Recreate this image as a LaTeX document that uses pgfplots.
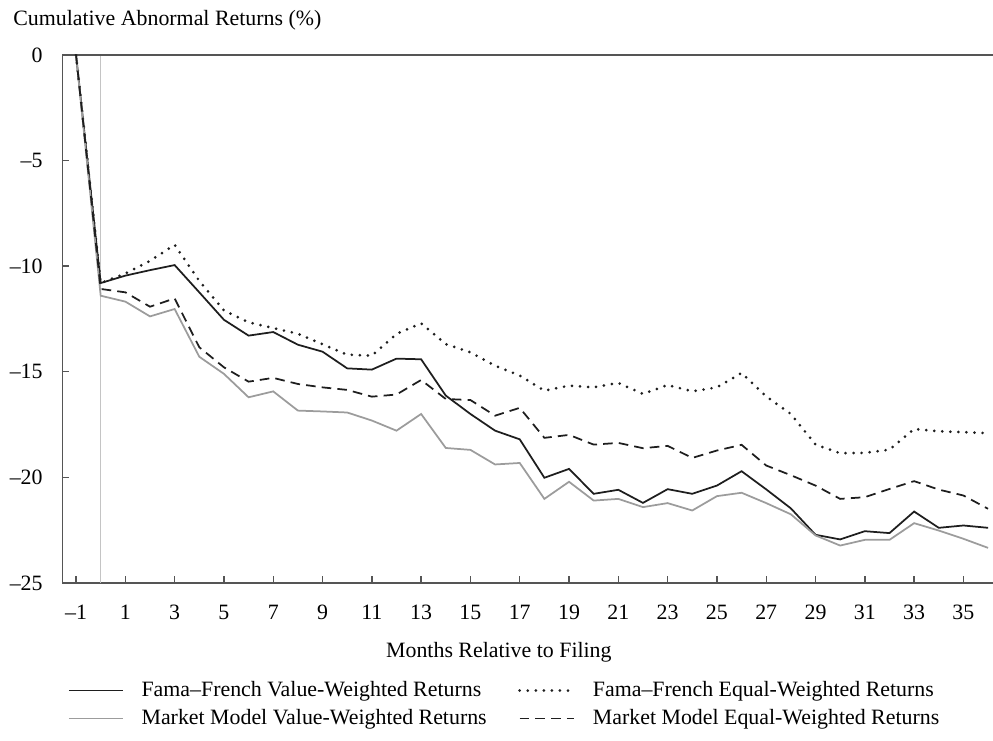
\documentclass[border=0pt]{standalone}
\usepackage{fontspec}
\setmainfont{Liberation Serif}
\usepackage{pgfplots}
\usepackage{pgfplotstable}
\pgfplotsset{compat=1.18}

\definecolor{axisgray}{HTML}{555555}
\definecolor{zeroline}{HTML}{C4C4C4}
\definecolor{mmgray}{HTML}{9C9C9C}
\definecolor{darkline}{HTML}{1E1E1E}

% cumulative abnormal returns (%), months relative to filing
\pgfplotstableread{
month ffvw   ffew   mmvw   mmew
-1     0.00   0.00   0.00   0.00
0    -10.80 -10.80 -11.40 -11.08
1    -10.45 -10.35 -11.68 -11.24
2    -10.19  -9.75 -12.38 -11.92
3     -9.95  -8.99 -12.03 -11.53
4    -11.24 -10.70 -14.29 -13.84
5    -12.54 -12.10 -15.10 -14.79
6    -13.29 -12.66 -16.21 -15.47
7    -13.12 -12.93 -15.93 -15.29
8    -13.72 -13.20 -16.84 -15.58
9    -14.05 -13.70 -16.88 -15.74
10   -14.84 -14.19 -16.93 -15.86
11   -14.90 -14.24 -17.31 -16.18
12   -14.38 -13.21 -17.79 -16.08
13   -14.41 -12.71 -17.00 -15.39
14   -16.13 -13.69 -18.61 -16.29
15   -17.00 -14.08 -18.70 -16.34
16   -17.79 -14.71 -19.39 -17.08
17   -18.20 -15.18 -19.32 -16.71
18   -20.02 -15.90 -21.02 -18.13
19   -19.60 -15.66 -20.21 -17.99
20   -20.78 -15.74 -21.10 -18.45
21   -20.59 -15.53 -21.02 -18.37
22   -21.21 -16.05 -21.41 -18.62
23   -20.56 -15.63 -21.22 -18.51
24   -20.78 -15.93 -21.57 -19.08
25   -20.39 -15.74 -20.89 -18.73
26   -19.71 -15.06 -20.73 -18.46
27   -20.57 -16.17 -21.22 -19.44
28   -21.47 -17.00 -21.75 -19.90
29   -22.72 -18.45 -22.75 -20.39
30   -22.94 -18.86 -23.23 -21.02
31   -22.55 -18.84 -22.96 -20.94
32   -22.64 -18.69 -22.96 -20.55
33   -21.62 -17.71 -22.17 -20.18
34   -22.39 -17.82 -22.52 -20.58
35   -22.28 -17.86 -22.91 -20.86
36   -22.39 -17.91 -23.34 -21.49
}\cartable

\begin{document}
\fontsize{12.5}{15}\selectfont
\begin{tikzpicture}
\begin{axis}[
    scale only axis,
    width=531.7pt, height=301.7pt,
    xmin=-1.55, xmax=36.2,
    ymin=-25, ymax=0,
    axis x line=bottom, axis y line=left,
    axis line style={-, draw=axisgray, line width=0.9pt},
    tick align=inside,
    major tick length=4pt,
    tick style={draw=axisgray, line width=0.8pt},
    xtick={-1,1,3,5,7,9,11,13,15,17,19,21,23,25,27,29,31,33,35},
    xticklabels={\textendash1,1,3,5,7,9,11,13,15,17,19,21,23,25,27,29,31,33,35},
    ytick={-25,-20,-15,-10,-5,0},
    yticklabels={\textendash25,\textendash20,\textendash15,\textendash10,\textendash5,0},
    xticklabel style={anchor=base, yshift=-21pt},
    yticklabel style={anchor=east, xshift=-7pt},
    xlabel={Months Relative to Filing},
    xlabel style={at={(axis description cs:0.469,0)}, anchor=base, yshift=-42.5pt},
    legend columns=2,
    legend cell align=left,
    legend image code/.code={\draw[#1] (0pt,0pt) -- (31pt,0pt);},
    legend style={draw=none, fill=none, inner sep=0pt,
        at={(axis description cs:0,0)}, anchor=north west,
        xshift=3pt, yshift=-55pt,
        nodes={inner sep=1pt},
        row sep=3.5pt,
        /tikz/every odd column/.style={column sep=9pt},
        /tikz/every even column/.style={column sep=17pt}},
]

\draw[zeroline, line width=0.6pt] (axis cs:0,-25) -- (axis cs:0,0);
\draw[axisgray, line width=0.9pt] (rel axis cs:0,1) -- (rel axis cs:1,1);

\addplot[darkline, line width=1pt] table[x=month, y=ffvw] {\cartable};
\addlegendentry{Fama–French Value-Weighted Returns}
\addplot[darkline, line width=1.7pt, line cap=round, dash pattern=on 0pt off 4.6pt] table[x=month, y=ffew] {\cartable};
\addlegendentry{Fama–French Equal-Weighted Returns}
\addplot[mmgray, line width=1pt] table[x=month, y=mmvw] {\cartable};
\addlegendentry{Market Model Value-Weighted Returns}
\addplot[darkline, line width=1pt, dash pattern=on 5.5pt off 3.5pt] table[x=month, y=mmew] {\cartable};
\addlegendentry{Market Model Equal-Weighted Returns}
\end{axis}
\node[anchor=base west, inner sep=0pt] at ([shift={(-28.3pt,16.6pt)}]current axis.north west)
    {Cumulative Abnormal Returns (\%)};
\pgfresetboundingbox
\path ([shift={(-35.7pt,-90.3pt)}]current axis.south west)
    rectangle ([shift={(0pt,31.4pt)}]current axis.north east);
\end{tikzpicture}
\end{document}
